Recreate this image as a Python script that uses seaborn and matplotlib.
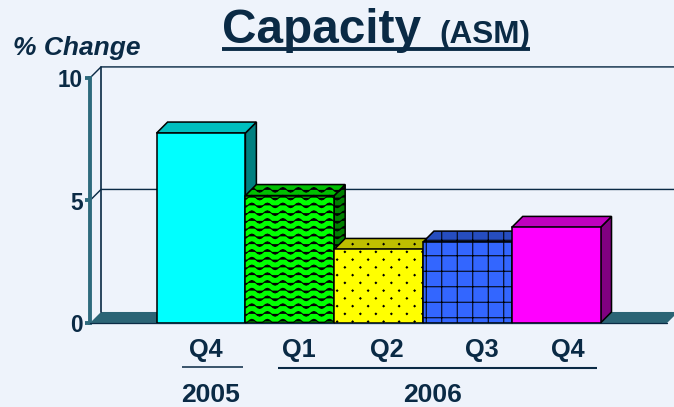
import numpy as np
import seaborn as sns
import matplotlib.pyplot as plt
from matplotlib import hatch as mhatch
from matplotlib.lines import Line2D
from matplotlib.path import Path
from matplotlib.patches import Polygon

# chart values
quarters = ["Q4 2005", "Q1 2006", "Q2 2006", "Q3 2006", "Q4 2006"]
capacity = [7.75, 5.2, 3.0, 3.3, 3.9]
front_colors = ["#00FFFF", "#00FF00", "#FFFF00", "#3366FF", "#FF00FF"]
top_colors = ["#00BFBF", "#00BF00", "#BFBF00", "#264DBF", "#BF00BF"]
side_colors = ["#008080", "#008000", "#808000", "#1A3380", "#800080"]
bar_hatches = ["", "w", "d", "+", ""]
quarter_labels = ["Q4", "Q1", "Q2", "Q3", "Q4"]
y_ticks = [0, 5, 10]

BG = "#EEF3FB"
INK = "#0A2A45"
TEAL = "#2E6A7D"
W, H, DPI = 674, 407, 93


# powerpoint style fills, matplotlib has no wave or sparse dot hatch
class WaveHatch(mhatch.HatchPatternBase):
    def __init__(self, hatch, density):
        self.rows = hatch.count("w") * 2 * density
        self.cols = hatch.count("w") * density
        self.pts = self.cols * 8 + 1
        self.num_vertices = self.rows * self.pts

    def set_vertices_and_codes(self, vertices, codes):
        xs = np.linspace(0, 1, self.pts)
        wave = 0.3 / self.rows * np.sin(2 * np.pi * self.cols * xs)
        for r in range(self.rows):
            a = r * self.pts
            vertices[a:a + self.pts, 0] = xs
            vertices[a:a + self.pts, 1] = np.clip((r + 0.5) / self.rows + wave, 0, 1)
            codes[a] = Path.MOVETO
            codes[a + 1:a + self.pts] = Path.LINETO


class DotHatch(mhatch.HatchPatternBase):
    def __init__(self, hatch, density):
        self.rows = hatch.count("d") * 2 * density
        self.cols = hatch.count("d") * density
        self.num_vertices = self.rows * self.cols * 5

    def set_vertices_and_codes(self, vertices, codes):
        size = 0.008
        shape = np.array([[0, -1], [1, 0], [0, 1], [-1, 0], [0, -1]]) * size
        n = 0
        for r in range(self.rows):
            for c in range(self.cols):
                cx = (c + (0.25 if r % 2 else 0.75)) / self.cols
                cy = (r + 0.5) / self.rows
                vertices[n:n + 5] = shape + [cx, cy]
                codes[n] = Path.MOVETO
                codes[n + 1:n + 4] = Path.LINETO
                codes[n + 4] = Path.CLOSEPOLY
                n += 5


mhatch._hatch_types.extend([WaveHatch, DotHatch])

sns.set_theme(style="white")
plt.rcParams["font.family"] = ["Liberation Sans", "DejaVu Sans"]
plt.rcParams["hatch.linewidth"] = 0.8

fig = plt.figure(figsize=((W + 0.1) / DPI, (H + 0.1) / DPI), dpi=DPI, facecolor=BG)
ax = fig.add_axes([90 / W, (H - 323) / H, 577 / W, 245 / H])
ax.patch.set_visible(False)


def fx(px):
    return px / W


def fy(py):
    return (H - py) / H


def ftext(px, py, s, size, **kw):
    kw.setdefault("ha", "center")
    kw.setdefault("va", "baseline")
    return fig.text(fx(px), fy(py), s, fontsize=size, color=INK, fontweight="bold", **kw)


def fline(x0, x1, py, lw):
    fig.add_artist(Line2D([fx(x0), fx(x1)], [fy(py), fy(py)], color=INK, lw=lw,
                          solid_capstyle="butt"))


sns.barplot(x=quarters, y=capacity, hue=quarters, palette=front_colors, order=quarters,
            width=1.0, saturation=1, legend=False, edgecolor="black", linewidth=1.2,
            ax=ax)
ax.set_xlim(-1.25, 5.25)
ax.set_ylim(0, 10)

# 3d depth of the box, same size in pixels on both axes
dx = 11 / (577 / 6.5)
dy = 11 / 24.5
x_left, x_right = ax.get_xlim()

for i, bar in enumerate(ax.patches):
    x0, x1 = bar.get_x(), bar.get_x() + bar.get_width()
    h = bar.get_height()
    bar.set_zorder(5 + i)
    bar.set_hatch(bar_hatches[i])
    side = [(x1, 0), (x1 + dx, dy), (x1 + dx, h + dy), (x1, h)]
    top = [(x0, h), (x0 + dx, h + dy), (x1 + dx, h + dy), (x1, h)]
    ax.add_patch(Polygon(side, facecolor=side_colors[i], edgecolor="black", lw=1.2,
                         hatch=bar_hatches[i], zorder=4.5 + i, clip_on=False))
    ax.add_patch(Polygon(top, facecolor=top_colors[i], edgecolor="black", lw=1.2,
                         hatch=bar_hatches[i], zorder=4.5 + i, clip_on=False))

# floor and back wall
floor = [(x_left, 0), (x_left + dx, dy), (x_right + dx, dy), (x_right, 0)]
ax.add_patch(Polygon(floor, facecolor="#2B6475", edgecolor="none", zorder=1, clip_on=False))
ax.plot([x_left + dx, x_left + dx], [dy, 10 + dy], color=INK, lw=1.3, zorder=1.5, clip_on=False)
for t in y_ticks[1:]:
    ax.plot([x_left, x_left + dx, x_right + dx], [t, t + dy, t + dy], color=INK, lw=1.1,
            zorder=1.5, clip_on=False)
ax.plot([x_left, x_right], [0, 0], color=INK, lw=1.0, zorder=3, clip_on=False)

# axes
sns.despine(ax=ax, top=True, right=True, bottom=True)
ax.spines["left"].set_color(TEAL)
ax.spines["left"].set_linewidth(3.0)
ax.set_yticks(y_ticks)
ax.tick_params(axis="y", left=True, length=3.5, width=3.0, color=TEAL, pad=2,
               labelsize=17.5, labelcolor=INK)
for lab in ax.get_yticklabels():
    lab.set_fontweight("bold")
ax.set_xticks([])

# quarter labels sit a bit off the bar centres in the original slide
label_shift = [5, 9, 8, 14, 12]
centers = ax.transData.transform([(i, 0) for i in range(len(quarters))])[:, 0]
for c, s, lab in zip(centers, label_shift, quarter_labels):
    ftext(c + s, 357, lab, 19.5)

fline(182, 243, 367, 1.2)
fline(278, 597, 368, 1.6)
ftext(211, 402, "2005", 20.5)
ftext(432, 402, "2006", 20.5)

ftext(13, 55, "% Change", 20.4, ha="left", style="italic")
ftext(222, 43, "Capacity", 37, ha="left")
ftext(439, 43, "(ASM)", 24.4, ha="left")
fline(222, 530, 49, 3.0)

fig.savefig("out.png", dpi=DPI, facecolor=BG)
